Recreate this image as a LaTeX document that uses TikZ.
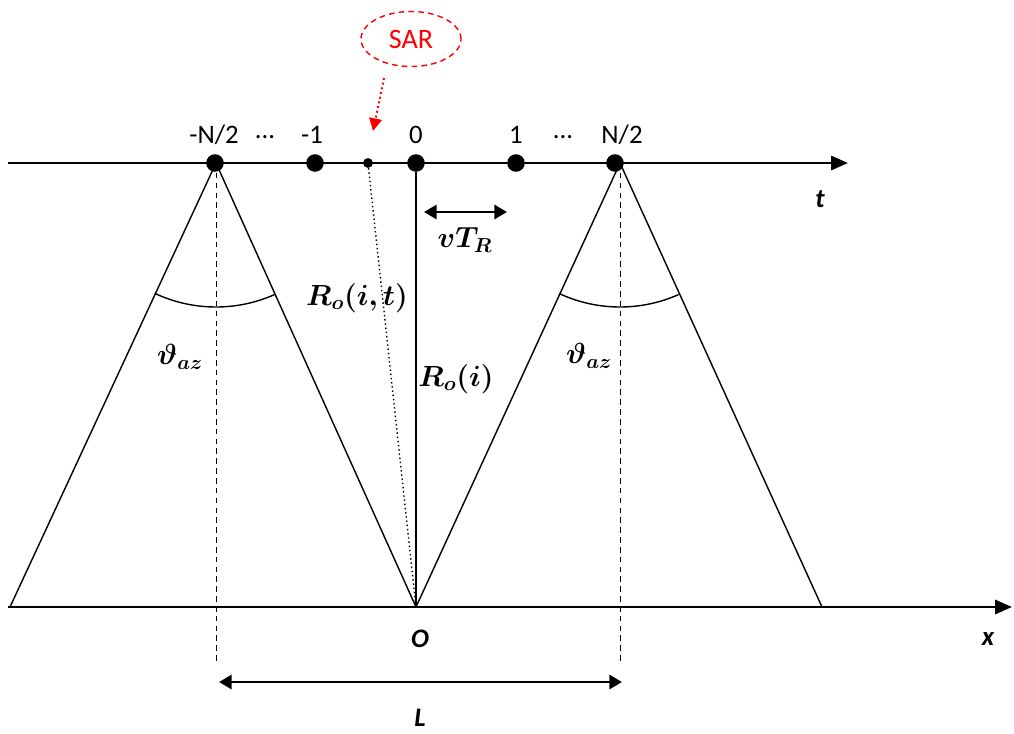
\documentclass[tikz,border=0pt]{standalone}
\usepackage{fontspec}
\setmainfont{Carlito}
\usepackage{amsmath,bm}
\usetikzlibrary{arrows.meta,positioning,calc,shapes.geometric}
\definecolor{SarRed}{HTML}{FF0000}

\begin{document}
\begin{tikzpicture}[x=0.025cm,y=-0.025cm,
    axis/.style={line width=2pt,-{Triangle[length=12pt,width=10pt]}},
    beam/.style={line width=1pt},
    guide/.style={line width=0.7pt,dash pattern=on 4pt off 3pt},
    dot/.style={circle,fill=black,inner sep=0pt,minimum size=12.5pt},
    smalldot/.style={circle,fill=black,inner sep=0pt,minimum size=7pt},
    num/.style={font=\fontsize{19}{22}\selectfont},
    axlabel/.style={font=\fontsize{19}{22}\selectfont\bfseries\itshape},
    mlabel/.style={font=\fontsize{20}{24}\selectfont},
    span/.style={line width=2pt,{Triangle[length=9pt,width=10pt]}-{Triangle[length=9pt,width=10pt]}}]
  \useasboundingbox (0,0) rectangle (1014,733);

  % axes
  \coordinate (tstart) at (8,163);
  \coordinate (tend) at (848,163);
  \coordinate (xstart) at (8,607);
  \coordinate (xend) at (1012,607);
  \draw[axis] (tstart) -- (tend);
  \draw[axis] (xstart) -- (xend);
  \node[axlabel] (tlab) at (820,199) {t};
  \node[axlabel] (xlab) at (988,639) {x};

  % footprints of the two extreme positions
  \coordinate (orig) at (416,607);
  \coordinate (lapex) at (216,163);
  \coordinate (rapex) at (620,163);
  \coordinate (lfoot) at (10,607);
  \coordinate (rfoot) at (822,607);
  \draw[beam] (lapex) -- (lfoot);
  \draw[beam] (lapex) -- (orig);
  \draw[beam] (rapex) -- (orig);
  \draw[beam] (rapex) -- (rfoot);
  \draw[beam] ($(lapex)+(115:144)$) arc[start angle=115, end angle=66, radius=144];
  \draw[beam] ($(rapex)+(115:144)$) arc[start angle=115, end angle=66, radius=144];
  \node[mlabel] (thl) at (180,357) {$\bm{\vartheta_{az}}$};
  \node[mlabel] (thr) at (589,356) {$\bm{\vartheta_{az}}$};

  % dashed guides and L
  \coordinate (lguide) at (216,662);
  \coordinate (rguide) at (620,662);
  \draw[guide] (lapex) -- (lguide);
  \draw[guide] (rapex) -- (rguide);
  \coordinate (lspan) at (219,682);
  \coordinate (rspan) at (622,682);
  \draw[span] (lspan) -- (rspan);
  \node[axlabel] (llab) at (420,718) {L};
  \node[axlabel] (olab) at (420,639) {O};

  % ranges
  \node[smalldot] (p) at (368,163) {};
  \node[dot] (p0) at (416,163) {};
  \draw[line width=1pt,dotted] (p) -- (orig);
  \draw[beam] (p0) -- (orig);
  \node[mlabel] (rit) at (357,298) {$\bm{R_o(i,t)}$};
  \node[mlabel] (ri) at (456,379) {$\bm{R_o(i)}$};

  % positions on the track
  \node[dot] (pmn) at (215,163) {};
  \node[dot] (pm1) at (315,163) {};
  \node[dot] (pp1) at (516,163) {};
  \node[dot] (ppn) at (615,163) {};
  \node[num] at (214,135) {-N/2};
  \node[num] at (265,137) {...};
  \node[num] at (312,135) {-1};
  \node[num] at (416,135) {0};
  \node[num] at (516,135) {1};
  \node[num] at (563,137) {...};
  \node[num] at (622,135) {N/2};

  % vT_R
  \coordinate (vl) at (424,212);
  \coordinate (vr) at (507,212);
  \draw[span] (vl) -- (vr);
  \node[mlabel] (vt) at (465,240) {$\bm{vT_R}$};

  % SAR
  \node[ellipse,draw=SarRed,line width=1pt,dash pattern=on 4pt off 3pt,
    minimum width=2.5cm,minimum height=1.375cm,inner sep=0pt,text=SarRed,
    font=\fontsize{20}{24}\selectfont] (sar) at (411,39) {SAR};
  \coordinate (sarfrom) at (384,78);
  \coordinate (sarto) at (373,131);
  \draw[SarRed,line width=1.4pt,dotted,-{Triangle[length=9pt,width=9pt]}] (sarfrom) -- (sarto);
\end{tikzpicture}
\end{document}
